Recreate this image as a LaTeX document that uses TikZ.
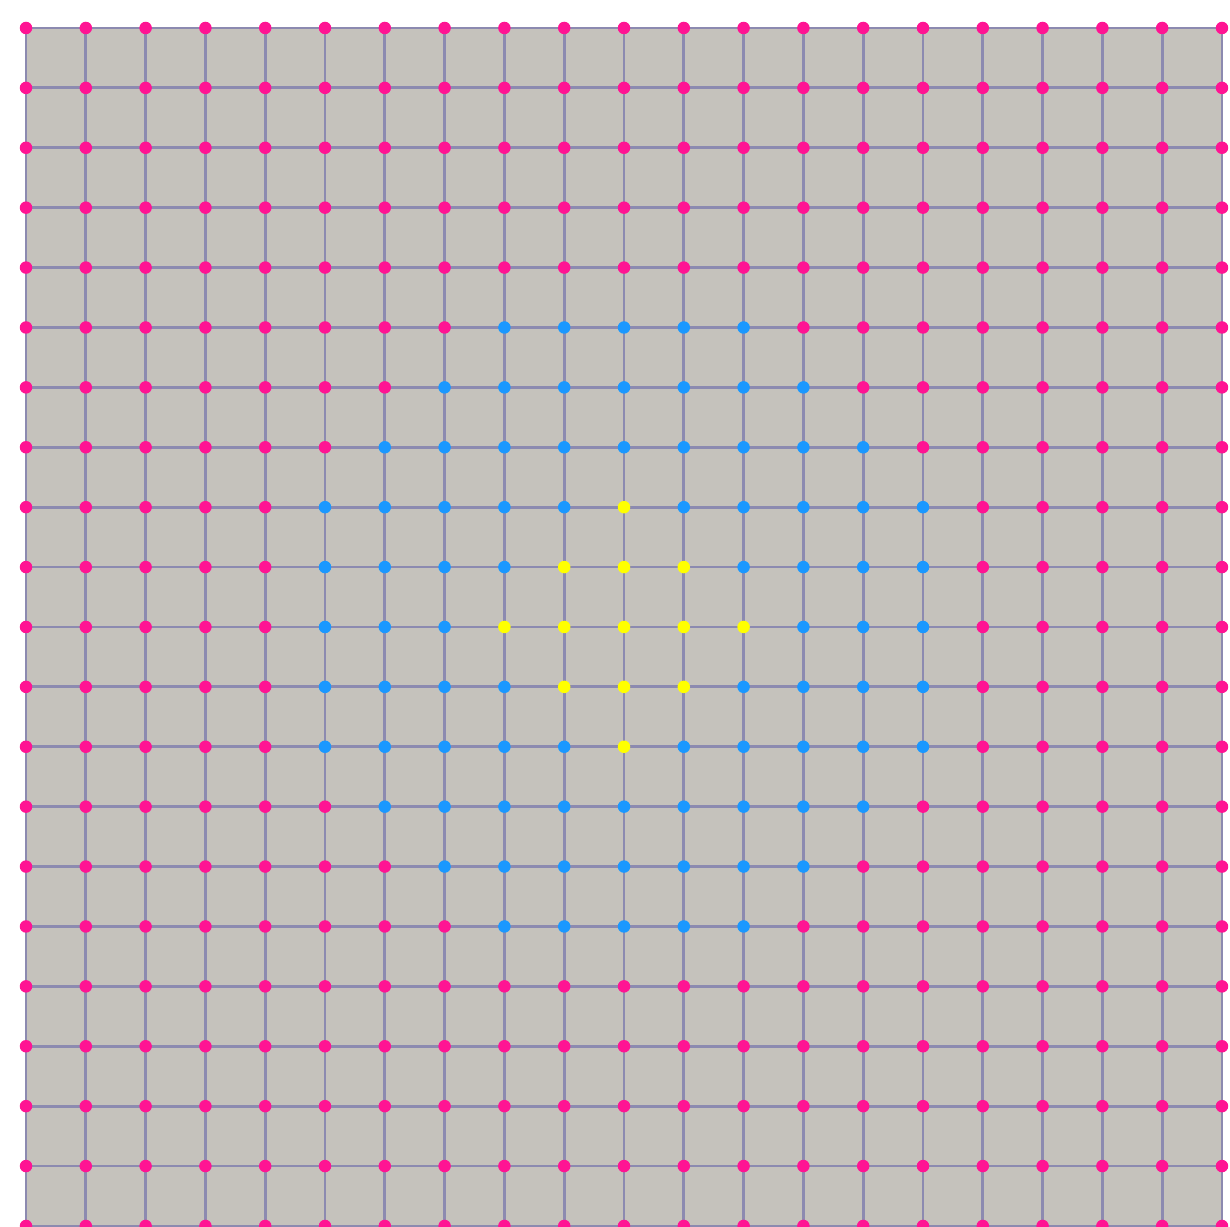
\documentclass[tikz,border=0pt]{standalone}
\usepackage{tikz}
\usepackage{xcolor}
\definecolor{platecol}{HTML}{C5C2BC}
\definecolor{wirecol}{HTML}{8C8AB0}
\definecolor{farcol}{HTML}{FF1493}
\definecolor{nearcol}{HTML}{1A98FF}
\definecolor{corecol}{HTML}{FFFF00}

\begin{document}
\begin{tikzpicture}[x=1.196cm, y=-1.198cm,
  wire/.style={draw=wirecol, line width=1.6pt},
  site/.style={circle, inner sep=0pt, minimum size=2.5mm}]

  \useasboundingbox (-0.435,-0.467) rectangle (20.134,20.017);
  \foreach \i in {0,...,20} \foreach \j in {0,...,20} \coordinate (v-\i-\j) at (\i,\j);

  \fill[platecol] (v-0-0) rectangle (v-20-20);
  \foreach \k in {0,...,20} {
    \draw[wire] (v-0-\k) -- (v-20-\k);
    \draw[wire] (v-\k-0) -- (v-\k-20);
  }

  % core: |dx|+|dy|<=2, ring: dx^2+dy^2<=29
  \foreach \i in {0,...,20} \foreach \j in {0,...,20} {
    \pgfmathtruncatemacro{\rr}{(\i-10)^2+(\j-10)^2}
    \pgfmathtruncatemacro{\mm}{abs(\i-10)+abs(\j-10)}
    \ifnum\mm<3 \def\col{corecol}\else\ifnum\rr<30 \def\col{nearcol}\else\def\col{farcol}\fi\fi
    \node[site, fill=\col] (d-\i-\j) at (v-\i-\j) {};
  }
\end{tikzpicture}
\end{document}
